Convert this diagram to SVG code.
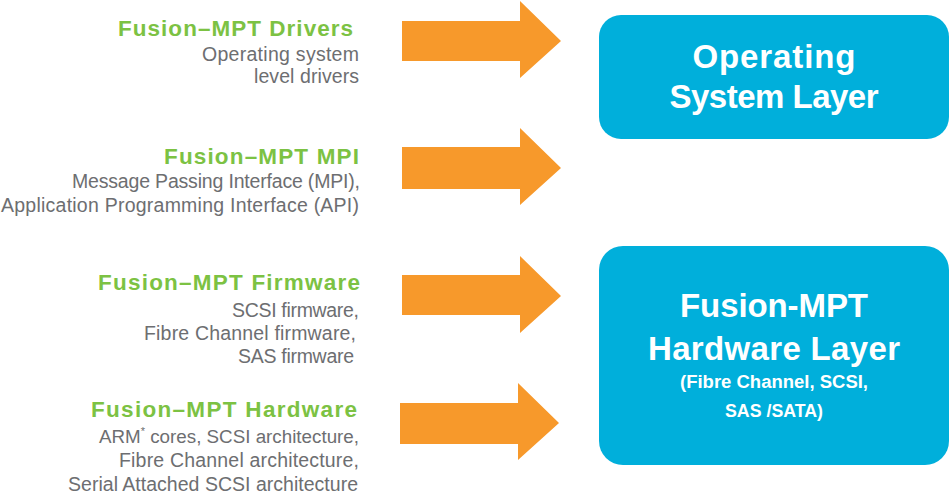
<svg xmlns="http://www.w3.org/2000/svg" width="951" height="498" viewBox="0 0 951 498">
<defs>
<style>
.title{font-family:"Liberation Sans",Arial,sans-serif;font-weight:bold;font-size:22.5px;fill:#7cc243;text-anchor:end}
.desc{font-family:"Liberation Sans",Arial,sans-serif;font-size:19.5px;fill:#6d6e71;text-anchor:end}
.box{fill:#00afdb}
.big{font-family:"Liberation Sans",Arial,sans-serif;font-weight:bold;font-size:33px;fill:#ffffff;text-anchor:middle}
.small{font-family:"Liberation Sans",Arial,sans-serif;font-weight:bold;font-size:18px;fill:#ffffff;text-anchor:middle}
.arrow{fill:#f7992b}
</style>
</defs>
<rect width="951" height="498" fill="#ffffff"/>
<g id="drivers">
<text class="title" x="353" y="36" textLength="235" lengthAdjust="spacing">Fusion–MPT Drivers</text>
<text class="desc" x="359" y="61" textLength="157" lengthAdjust="spacing">Operating system</text>
<text class="desc" x="359" y="83" textLength="105" lengthAdjust="spacing">level drivers</text>
</g>
<g id="mpi">
<text class="title" x="359" y="164" textLength="195" lengthAdjust="spacing">Fusion–MPT MPI</text>
<text class="desc" x="360" y="188" textLength="288" lengthAdjust="spacing">Message Passing Interface (MPI),</text>
<text class="desc" x="359" y="212" textLength="358" lengthAdjust="spacing">Application Programming Interface (API)</text>
</g>
<g id="firmware">
<text class="title" x="360" y="290" textLength="262" lengthAdjust="spacing">Fusion–MPT Firmware</text>
<text class="desc" x="359" y="317" textLength="127" lengthAdjust="spacing">SCSI firmware,</text>
<text class="desc" x="356" y="340" textLength="212" lengthAdjust="spacing">Fibre Channel firmware,</text>
<text class="desc" x="354" y="363" textLength="116" lengthAdjust="spacing">SAS firmware</text>
</g>
<g id="hardware">
<text class="title" x="357" y="417" textLength="266" lengthAdjust="spacing">Fusion–MPT Hardware</text>
<text class="desc" x="359" y="443" style="font-size:18.8px">ARM<tspan style="font-size:11px" dy="-8">*</tspan><tspan dy="8"> cores, SCSI architecture,</tspan></text>
<text class="desc" x="359" y="467" textLength="240" lengthAdjust="spacing">Fibre Channel architecture,</text>
<text class="desc" x="358" y="491" textLength="290" lengthAdjust="spacing">Serial Attached SCSI architecture</text>
</g>
<g id="connectors">
<polygon class="arrow" points="402,21 520,21 520,1 561,41 520,78 520,61 402,61"/>
<polygon class="arrow" points="402,147 520,147 520,128 561,168 520,205 520,189 402,189"/>
<polygon class="arrow" points="402,275 520,275 520,256 561,296 520,333 520,315 402,315"/>
<polygon class="arrow" points="400,403 518,403 518,383 559,423 518,460 518,444 400,444"/>
</g>
<g id="os-layer">
<rect class="box" x="599" y="15" width="350" height="124" rx="22"/>
<text class="big" x="774" y="68" textLength="163" lengthAdjust="spacing">Operating</text>
<text class="big" x="774" y="108" textLength="209" lengthAdjust="spacing">System Layer</text>
</g>
<g id="hw-layer">
<rect class="box" x="599" y="246" width="350" height="219" rx="24"/>
<text class="big" x="774" y="317" textLength="188" lengthAdjust="spacing">Fusion-MPT</text>
<text class="big" x="774" y="360" textLength="252" lengthAdjust="spacing">Hardware Layer</text>
<text class="small" x="774" y="388" textLength="188" lengthAdjust="spacingAndGlyphs">(Fibre Channel, SCSI,</text>
<text class="small" x="774" y="417" textLength="98" lengthAdjust="spacingAndGlyphs">SAS /SATA)</text>
</g>
</svg>
